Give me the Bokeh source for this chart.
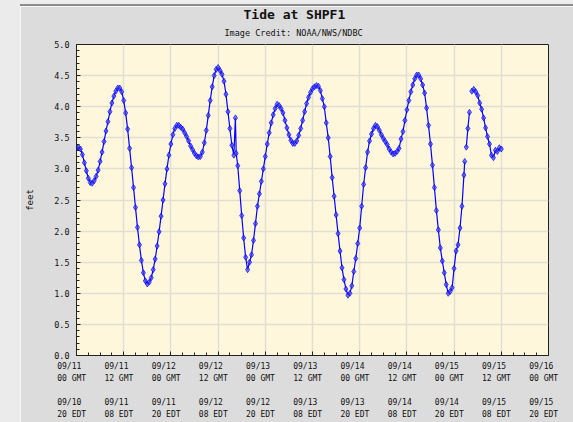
import numpy as np
from bokeh.plotting import figure
from bokeh.models import FixedTicker, Title, Div, ColumnDataSource, PrintfTickFormatter
from bokeh.layouts import row, column
from bokeh.embed import file_html
from bokeh.resources import INLINE

# hours since 09/11 00 GMT, water level in feet
hours = [0.0, 0.5, 1.0, 1.5, 2.0, 2.5, 3.0, 3.5, 4.0, 4.5, 5.0, 5.5, 6.0, 6.5, 7.0, 7.5,
         8.0, 8.5, 9.0, 9.5, 10.0, 10.5, 11.0, 11.5, 12.0, 12.5, 13.0, 13.5, 14.0, 14.5,
         15.0, 15.5, 16.0, 16.5, 17.0, 17.5, 18.0, 18.5, 19.0, 19.5, 20.0, 20.5, 21.0,
         21.5, 22.0, 22.5, 23.0, 23.5, 24.0, 24.5, 25.0, 25.5, 26.0, 26.5, 27.0, 27.5,
         28.0, 28.5, 29.0, 29.5, 30.0, 30.5, 31.0, 31.5, 32.0, 32.5, 33.0, 33.5, 34.0,
         34.5, 35.0, 35.5, 36.0, 36.5, 37.0, 37.5, 38.0, 38.5, 39.0, 39.5, 40.0, 40.4,
         40.6, 41.0, 41.5, 42.0, 42.5, 43.0, 43.5, 44.0, 44.5, 45.0, 45.5, 46.0, 46.5,
         47.0, 47.5, 48.0, 48.5, 49.0, 49.5, 50.0, 50.5, 51.0, 51.5, 52.0, 52.5, 53.0,
         53.5, 54.0, 54.5, 55.0, 55.5, 56.0, 56.5, 57.0, 57.5, 58.0, 58.5, 59.0, 59.5,
         60.0, 60.5, 61.0, 61.5, 62.0, 62.5, 63.0, 63.5, 64.0, 64.5, 65.0, 65.5, 66.0,
         66.5, 67.0, 67.5, 68.0, 68.5, 69.0, 69.5, 70.0, 70.5, 71.0, 71.5, 72.0, 72.5,
         73.0, 73.5, 74.0, 74.5, 75.0, 75.5, 76.0, 76.5, 77.0, 77.5, 78.0, 78.5, 79.0,
         79.5, 80.0, 80.5, 81.0, 81.5, 82.0, 82.5, 83.0, 83.5, 84.0, 84.5, 85.0, 85.5,
         86.0, 86.5, 87.0, 87.5, 88.0, 88.5, 89.0, 89.5, 90.0, 90.5, 91.0, 91.5, 92.0,
         92.5, 93.0, 93.5, 94.0, 94.5, 95.0, 95.5, 96.0, 96.5, 97.0, 97.5, 98.0, 98.5,
         98.7, 98.9, 99.1, 99.5, 99.9, 100.2, 100.5, 101.0, 101.5, 102.0, 102.5, 103.0,
         103.5, 104.0, 104.5, 105.0, 105.5, 106.0, 106.5, 107.0, 107.5, 108.0]
nan = float("nan")
feet = [3.33, 3.35, 3.32, 3.23, 3.10, 2.97, 2.85, 2.78, 2.77, 2.81, 2.88, 2.98, 3.12, 3.27,
        3.44, 3.61, 3.76, 3.92, 4.06, 4.17, 4.25, 4.30, 4.30, 4.24, 4.10, 3.90, 3.64, 3.33,
        3.02, 2.70, 2.38, 2.06, 1.78, 1.53, 1.33, 1.20, 1.15, 1.18, 1.25, 1.38, 1.55, 1.76,
        1.99, 2.24, 2.50, 2.76, 3.00, 3.22, 3.40, 3.55, 3.65, 3.70, 3.70, 3.67, 3.64, 3.58,
        3.52, 3.45, 3.37, 3.31, 3.25, 3.21, 3.19, 3.20, 3.27, 3.42, 3.62, 3.86, 4.10, 4.32,
        4.50, 4.60, 4.63, 4.58, 4.52, 4.41, 4.20, 3.92, 3.65, 3.38, 3.22, 3.82, 3.25, 3.05,
        2.65, 2.25, 1.89, 1.58, 1.38, 1.50, 1.62, 1.85, 2.12, 2.40, 2.60, 2.80, 3.00, 3.20,
        3.40, 3.58, 3.74, 3.87, 3.97, 4.04, 4.02, 3.97, 3.90, 3.78, 3.66, 3.55, 3.46, 3.41,
        3.41, 3.45, 3.54, 3.65, 3.78, 3.92, 4.05, 4.15, 4.23, 4.29, 4.32, 4.34, 4.33, 4.26,
        4.13, 4.00, 3.74, 3.50, 3.20, 2.86, 2.56, 2.26, 1.96, 1.68, 1.41, 1.22, 1.07, 0.97,
        1.00, 1.12, 1.35, 1.56, 1.80, 2.05, 2.40, 2.75, 3.02, 3.27, 3.45, 3.56, 3.65, 3.70,
        3.68, 3.62, 3.55, 3.49, 3.44, 3.39, 3.32, 3.27, 3.24, 3.25, 3.28, 3.33, 3.48, 3.60,
        3.78, 3.95, 4.10, 4.24, 4.35, 4.45, 4.51, 4.51, 4.45, 4.35, 4.22, 3.98, 3.70, 3.40,
        3.06, 2.70, 2.33, 2.02, 1.73, 1.52, 1.33, 1.14, 1.00, 1.03, 1.09, 1.40, 1.68, 1.78,
        2.05, 2.40, 2.90, 3.12, nan, 3.35, 3.65, 3.91, nan, 4.25, 4.28, 4.24, 4.18, 4.06,
        3.96, 3.82, 3.66, 3.52, 3.40, 3.22, 3.18, 3.30, 3.28, 3.34, 3.32]

tick_hours = [0, 12, 24, 36, 48, 60, 72, 84, 96, 108, 120]
gmt_dates = ["09/11", "09/11", "09/12", "09/12", "09/13", "09/13", "09/14", "09/14",
             "09/15", "09/15", "09/16"]
gmt_times = ["00 GMT", "12 GMT", "00 GMT", "12 GMT", "00 GMT", "12 GMT", "00 GMT",
             "12 GMT", "00 GMT", "12 GMT", "00 GMT"]
edt_dates = ["09/10", "09/11", "09/11", "09/12", "09/12", "09/13", "09/13", "09/14",
             "09/14", "09/15", "09/15"]
edt_times = ["20 EDT", "08 EDT", "20 EDT", "08 EDT", "20 EDT", "08 EDT", "20 EDT",
             "08 EDT", "20 EDT", "08 EDT", "20 EDT"]
y_ticks = [0.0, 0.5, 1.0, 1.5, 2.0, 2.5, 3.0, 3.5, 4.0, 4.5, 5.0]

MONO = "DejaVu Sans Mono"

src = ColumnDataSource(dict(h=np.array(hours, dtype=float), v=np.array(feet, dtype=float)))

p = figure(width=553, height=416, x_range=(0, 120), y_range=(0, 5),
           output_backend="svg", toolbar_location=None, title=None,
           min_border_left=56, min_border_right=25, min_border_top=37, min_border_bottom=67,
           background_fill_color="#fff7dc", border_fill_color="#dcdcdc",
           outline_line_color="#222222", outline_line_width=1, margin=0)

p.line("h", "v", source=src, line_color="#0000ff", line_width=1.2)
p.scatter("h", "v", source=src, marker="diamond", size=6,
          fill_color="#4a4aff", fill_alpha=0.7, line_color="#0000f0", line_alpha=0.7)

sub = Title(text="Image Credit: NOAA/NWS/NDBC", align="left", offset=148,
            text_font=MONO, text_font_size="8.5px", text_font_style="normal",
            text_color="#111111", standoff=12.5)
main = Title(text="Tide at SHPF1", align="left", offset=167,
             text_font=MONO, text_font_size="13px", text_font_style="bold",
             text_color="#111111", standoff=-4.5)
p.add_layout(sub, "above")
p.add_layout(main, "above")

# axes
p.xaxis.ticker = FixedTicker(ticks=tick_hours, minor_ticks=list(range(0, 121, 3)))
p.xaxis.major_label_overrides = {
    h: f"{gd}   \n{gt}  \n\n{ed}   \n{et}  "
    for h, gd, gt, ed, et in zip(tick_hours, gmt_dates, gmt_times, edt_dates, edt_times)
}
p.xaxis.major_label_text_align = "center"
p.xaxis.major_label_text_line_height = 1.34
p.xaxis.major_label_standoff = 6
p.xaxis.major_label_text_font_size = "8px"

p.yaxis.ticker = FixedTicker(ticks=y_ticks, minor_ticks=[i / 10 for i in range(0, 51)])
p.yaxis.formatter = PrintfTickFormatter(format="%.1f")
p.yaxis.major_label_standoff = 7
p.yaxis.major_label_text_font_size = "8.5px"
p.yaxis.axis_label = "feet"
p.yaxis.axis_label_standoff = 16
p.yaxis.axis_label_text_font = MONO
p.yaxis.axis_label_text_font_size = "9px"
p.yaxis.axis_label_text_font_style = "normal"
p.yaxis.axis_label_text_color = "#111111"

for ax in (p.xaxis, p.yaxis):
    ax.major_label_text_font = MONO
    ax.major_label_text_color = "#111111"
    ax.axis_line_color = "#222222"
    ax.major_tick_in = 4
    ax.major_tick_out = 0
    ax.minor_tick_in = 3
    ax.minor_tick_out = 0
    ax.major_tick_line_color = "#222222"
    ax.minor_tick_line_color = "#222222"

p.xgrid.grid_line_color = "#e2ded2"
p.ygrid.grid_line_color = "#e2ded2"
p.xgrid.grid_line_width = 1.5
p.ygrid.grid_line_width = 1.5

strip = Div(width=20, height=422, margin=0, styles={"background-color": "#ebebeb"})
top_light = Div(width=553, height=4, margin=0, styles={"background-color": "#ededed"})
top_dark = Div(width=553, height=2, margin=0, styles={"background-color": "#8c8c8c"})
layout = row(strip, column(top_light, top_dark, p, spacing=0), spacing=0)

open("out.html", "w").write(file_html(layout, INLINE))
